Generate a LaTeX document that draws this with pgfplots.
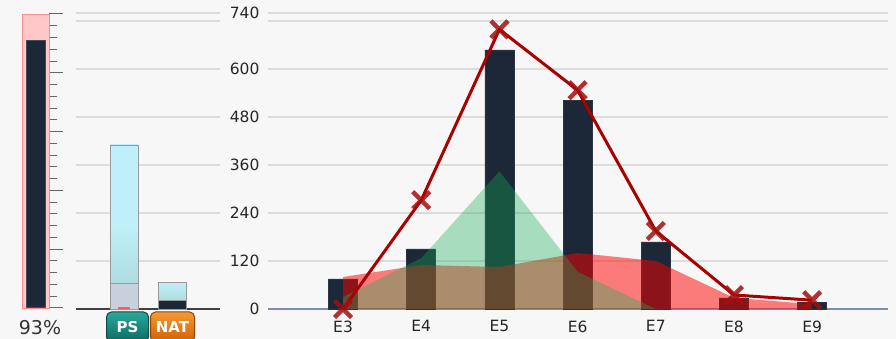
\documentclass[border=0pt]{standalone}
\usepackage{fontspec}
\setmainfont{DejaVu Sans}
\usepackage{pgfplots}
\pgfplotsset{compat=1.18}
\definecolor{bg}{HTML}{F7F7F7}
\definecolor{navy}{HTML}{1C2738}
\definecolor{gridc}{HTML}{DCDCDC}
\definecolor{basec}{HTML}{7F8FAA}
\definecolor{linec}{RGB}{170,0,0}
\definecolor{markc}{RGB}{165,15,15}
\definecolor{areared}{RGB}{255,0,0}
\definecolor{areagreen}{RGB}{20,175,85}
\definecolor{pinkc}{HTML}{FFC8C8}
\definecolor{cyanc}{HTML}{BFEFF8}
\definecolor{cyanlow}{HTML}{A6D3D6}
\definecolor{lavc}{HTML}{C8D0DE}
\definecolor{tealtop}{HTML}{2AA89A}
\definecolor{tealbot}{HTML}{0B6A62}
\definecolor{orgtop}{HTML}{F59A35}
\definecolor{orgbot}{HTML}{D06000}
\begin{document}
\begin{tikzpicture}[x=1pt,y=1pt]
\fill[bg] (0,0) rectangle (896,339);

% gauge
\begin{axis}[at={(22pt,31pt)}, anchor=south west, scale only axis,
  width=27pt, height=294pt, xmin=0, xmax=1, ymin=0, ymax=100,
  axis x line=none, axis y line*=right, y axis line style={draw=none},
  ytick={0,20,...,100}, minor y tick num=4, yticklabels={},
  tick align=outside, major tick length=14pt, minor tick length=8pt,
  tick style={draw=black!60, line width=1pt}, clip=false]
\addplot[ybar, bar width=27pt, fill=pinkc, draw=pinkc!70!red, line width=0.8pt] coordinates {(0.5,100)};
\addplot[ybar, bar width=19pt, fill=navy, draw=navy!60!gray, line width=1pt] coordinates {(0.5,91)};
\end{axis}

% PS / NAT panel
\begin{axis}[at={(76pt,30pt)}, anchor=south west, scale only axis,
  width=144pt, height=296pt, xmin=76, xmax=220, ymin=0, ymax=740,
  axis x line*=bottom, axis y line*=left, y axis line style={draw=none},
  x axis line style={draw=black!75, line width=1.5pt},
  xtick=\empty, ytick={0,120,240,360,480,600,720,740}, yticklabels={},
  major tick length=0pt, ymajorgrids, grid style={gridc, line width=1.5pt}, clip=false]
\addplot[ybar, bar width=28pt, draw=black!40, line width=0.8pt, top color=cyanc, bottom color=cyanlow, middle color=cyanc] coordinates {(124,410)};
\addplot[ybar, bar width=28pt, draw=black!40, line width=0.8pt, top color=cyanc, bottom color=cyanlow] coordinates {(172,67)};
\addplot[ybar, bar width=28pt, draw=black!40, line width=0.8pt, fill=lavc] coordinates {(124,63)};
\addplot[ybar, bar width=28pt, draw=black!40, line width=0.8pt, fill=navy] coordinates {(172,22)};
\addplot[ybar, bar width=12pt, draw=none, fill=red!65] coordinates {(124,4)};
\end{axis}

% main chart
\begin{axis}[at={(268pt,30pt)}, anchor=south west, scale only axis,
  width=620pt, height=296pt, xmin=-0.96, xmax=6.97, ymin=0, ymax=740,
  xtick={0,...,6}, xticklabels={E3,E4,E5,E6,E7,E8,E9},
  ytick={0,120,240,360,480,600,720,740}, yticklabels={0,120,240,360,480,600,,740},
  axis x line*=bottom, axis y line*=left, y axis line style={draw=none},
  x axis line style={draw=basec, line width=1.5pt},
  major tick length=0pt, ymajorgrids, grid style={gridc, line width=1.5pt},
  tick label style={font=\fontsize{15.5}{18}\selectfont, text=black!85},
  /pgf/number format/assume math mode=true,
  xticklabel style={yshift=-8pt}, yticklabel style={xshift=-5pt},
  clip=false]
\addplot[ybar, bar width=29pt, fill=navy, draw=navy!85!gray, line width=0.5pt]
  coordinates {(0,75)(1,150)(2,648)(3,522)(4,168)(5,28)(6,17)};
\addplot[draw=none, fill=areared, fill opacity=0.5]
  coordinates {(0,80)(1,110)(2,105)(3,140)(4,120)(5,28)(6,12)} \closedcycle;
\addplot[draw=none, fill=areagreen, fill opacity=0.35]
  coordinates {(0,30)(1,127)(2,344)(3,93)(4,0)(5,0)(6,0)} \closedcycle;
\addplot[linec, line width=3pt, mark=x, mark size=12pt, mark options={draw=markc, line width=4.5pt, opacity=0.85}]
  coordinates {(0,0)(1,272)(2,699)(3,547)(4,195)(5,35)(6,22)};
\end{axis}

\node[text=black!80, font=\fontsize{19}{22}\selectfont] at (40,11) {93\%};
\node[minimum width=42pt, minimum height=30pt, rounded corners=5pt, top color=tealtop, bottom color=tealbot, draw=tealbot!70!black, line width=1pt, text=white, font=\bfseries\fontsize{15}{17}\selectfont, inner sep=0pt] at (127.5,12) {PS};
\node[minimum width=44pt, minimum height=30pt, rounded corners=5pt, top color=orgtop, bottom color=orgbot, draw=orgbot!70!black, line width=1pt, text=white, font=\bfseries\fontsize{15}{17}\selectfont, inner sep=0pt] at (172.5,12) {NAT};
\pgfresetboundingbox
\path (0,0) rectangle (896,339);
\end{tikzpicture}
\end{document}
